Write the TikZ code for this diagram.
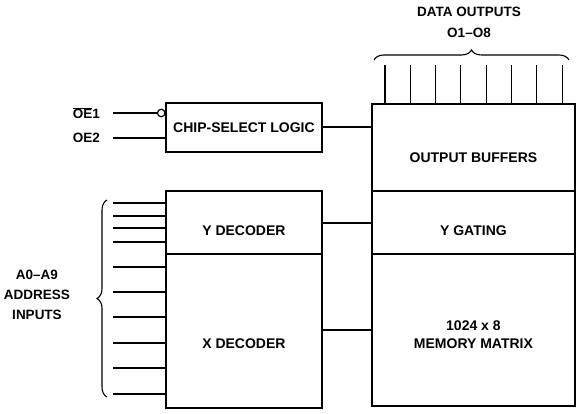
\documentclass[tikz,border=0pt]{standalone}
\usepackage{fontspec}
\setmainfont{Liberation Sans}
\usetikzlibrary{decorations.pathreplacing}
\begin{document}
\begin{tikzpicture}[x=1pt,y=-1pt,
  blk/.style={draw,line width=1.9pt,rectangle,inner sep=0pt,anchor=north west},
  btxt/.style={font=\fontsize{14}{18}\selectfont\bfseries,align=center,inner sep=0pt},
  wire/.style={line width=1.35pt},
  lbl/.style={font=\fontsize{13.5}{15}\selectfont\bfseries,inner sep=0pt},
  slbl/.style={font=\fontsize{13.5}{15}\selectfont\bfseries,inner sep=0pt,align=center},
  brc/.style={decorate,decoration={brace,amplitude=10pt},line width=1.1pt}]
\useasboundingbox (0,0) rectangle (578,414);
% boxes
\node[blk,minimum width=156pt,minimum height=49pt] (cs) at (165,102) {};
\node[btxt] at (cs.center) {CHIP-SELECT LOGIC};
\node[blk,minimum width=203pt,minimum height=87pt] (ob) at (371,103) {};
\node[btxt] at ([yshift=-10pt]ob.center) {OUTPUT BUFFERS};
\node[blk,minimum width=203pt,minimum height=63pt] (yg) at (371,190) {};
\node[btxt] at ([yshift=-8pt]yg.center) {Y GATING};
\node[blk,minimum width=203pt,minimum height=152pt] (mm) at (371,253) {};
\node[btxt] at ([yshift=-5pt]mm.center) {1024 x 8\\MEMORY MATRIX};
\node[blk,minimum width=156pt,minimum height=63pt] (yd) at (165,190) {};
\node[btxt] at ([yshift=-8pt]yd.center) {Y DECODER};
\node[blk,minimum width=156pt,minimum height=154pt] (xd) at (165,253) {};
\node[btxt] at ([yshift=-13pt]xd.center) {X DECODER};
% connectors between blocks
\draw[wire] (cs.east |- 0,127) -- (ob.west |- 0,127);
\draw[wire] (yd.east |- 0,223) -- (yg.west |- 0,223);
\draw[wire] (xd.east |- 0,330) -- (mm.west |- 0,330);
% chip select inputs
\node[lbl,anchor=east] (oe1) at (100,113) {$\overline{\mbox{OE}}$1};
\node[lbl,anchor=east] (oe2) at (100,138) {OE2};
\node[draw,circle,line width=1.2pt,minimum size=7.5pt,inner sep=0pt] (bub) at (161.2,113) {};
\draw[wire] (113,113) coordinate (oe1s) -- (bub.west);
\coordinate (oe2s) at (113,138);
\draw[wire] (oe2s) -- (cs.west |- oe2s);
% address inputs
\foreach \y [count=\i] in {203,216,228,242} {
  \coordinate (a\i) at (113,\y);
  \draw[wire] (a\i) -- (yd.west |- a\i);
}
\foreach \y [count=\i from 5] in {267,292,317,343,368,394} {
  \coordinate (a\i) at (113,\y);
  \draw[wire] (a\i) -- (xd.west |- a\i);
}
\coordinate (lb1) at (107,397);
\coordinate (lb2) at (107,200);
\draw[brc] (lb1) -- (lb2);
\node[slbl] (addr) at (37,295) {A0--A9\\[5pt]ADDRESS\\[5pt]INPUTS};
% data outputs
\foreach \i in {0,...,7} {
  \coordinate (o\i) at ({385+\i*25.3},65);
  \draw[line width=1.1pt] (o\i) -- (ob.north -| o\i);
}
\coordinate (tb1) at (374,60);
\coordinate (tb2) at (569,60);
\draw[brc] (tb1) -- (tb2);
\node[slbl] (dout) at (469,12) {DATA OUTPUTS};
\node[slbl] (o18) at (469,33) {O1--O8};
\end{tikzpicture}
\end{document}
